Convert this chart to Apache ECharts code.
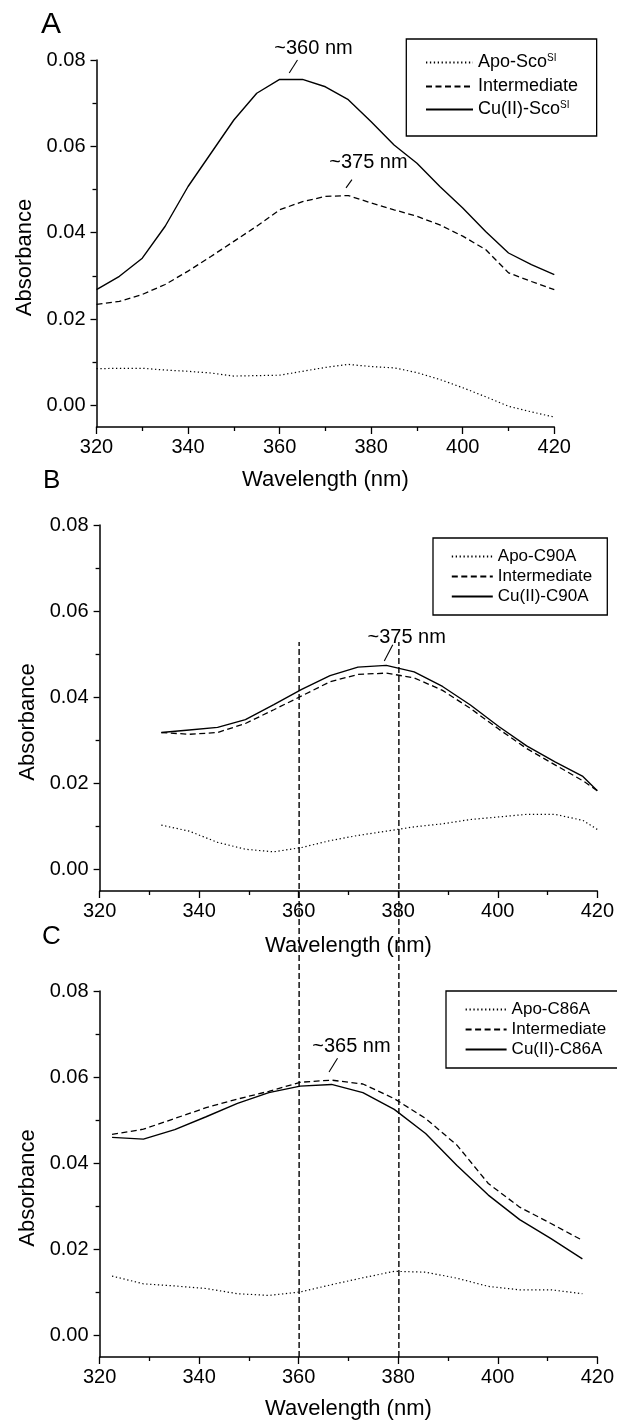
<!DOCTYPE html>
<html>
<head>
<meta charset="utf-8">
<script src="https://cdn.jsdelivr.net/npm/echarts@6/dist/echarts.min.js"></script>
<style>
html,body{margin:0;padding:0;background:#fff;overflow:hidden;}
#chart{width:617px;height:1425px;}
</style>
</head>
<body>
<div id="chart"></div>
<script>
// ---------- DATA ----------
const xTicks = [320, 340, 360, 380, 400, 420];
const yTicks = [0, 0.02, 0.04, 0.06, 0.08];
const yMinorTicks = [0.01, 0.03, 0.05, 0.07];

// Panel A
const waveA = [320,325,330,335,340,345,350,355,360,365,370,375,380,385,390,395,400,405,410,415,420];
const apoA = [0.0085,0.0086,0.0086,0.0082,0.0079,0.0075,0.0068,0.0069,0.0070,0.0079,0.0088,0.0095,0.0090,0.0087,0.0076,0.0060,0.0041,0.0020,-0.0002,-0.0015,-0.0027];
const interA = [0.0234,0.0241,0.0257,0.0280,0.0311,0.0345,0.0380,0.0415,0.0453,0.0472,0.0484,0.0486,0.0469,0.0453,0.0438,0.0418,0.0392,0.0361,0.0307,0.0287,0.0268];
const cuA = [0.0268,0.0299,0.0341,0.0415,0.0507,0.0584,0.0661,0.0723,0.0755,0.0755,0.0738,0.0708,0.0657,0.0603,0.0561,0.0507,0.0457,0.0403,0.0353,0.0326,0.0303];
const namesA = ['Apo-Sco', 'Intermediate', 'Cu(II)-Sco'];

// Panel B
const waveB = [332.4,338.0,343.7,349.3,355.0,360.6,366.3,371.9,377.6,383.2,388.9,394.5,400.2,405.8,411.5,417.1,420.0];
const apoB = [0.0103,0.0089,0.0063,0.0047,0.0041,0.0051,0.0067,0.0079,0.0089,0.0099,0.0106,0.0116,0.0122,0.0128,0.0128,0.0114,0.0093];
const interB = [0.0318,0.0314,0.0318,0.0339,0.0371,0.0403,0.0436,0.0453,0.0456,0.0445,0.0416,0.0374,0.0326,0.0281,0.0243,0.0206,0.0183];
const cuB = [0.0318,0.0324,0.0330,0.0348,0.0383,0.0418,0.0450,0.0470,0.0474,0.0459,0.0425,0.0382,0.0332,0.0287,0.0250,0.0216,0.0183];
const namesB = ['Apo-C90A', 'Intermediate ', 'Cu(II)-C90A'];

// Panel C
const waveC = [322.5,328.8,335.1,341.4,347.7,354.0,360.3,366.6,372.9,379.2,385.5,391.8,398.1,404.4,410.7,417.0];
const apoC = [0.0138,0.0120,0.0115,0.0109,0.0097,0.0093,0.0101,0.0118,0.0134,0.0149,0.0147,0.0133,0.0114,0.0106,0.0106,0.0097];
const interC = [0.0467,0.0479,0.0504,0.0529,0.0549,0.0567,0.0588,0.0593,0.0584,0.0550,0.0504,0.0442,0.0353,0.0298,0.0260,0.0221];
const cuC = [0.0460,0.0456,0.0478,0.0508,0.0539,0.0564,0.0579,0.0583,0.0564,0.0525,0.0469,0.0395,0.0326,0.0269,0.0225,0.0178];
const namesC = ['Apo-C86A', 'Intermediate  ', 'Cu(II)-C86A'];

// Reference wavelengths (vertical dashed lines through B and C)
const refLines = [360, 380];

// ---------- CHART ----------
const FONT = "'Liberation Sans',Arial,sans-serif";
const chart = echarts.init(document.getElementById('chart'));
const grids = [
  {left: 96.5, right: 62.7, top: 60, bottom: 998},
  {left: 99.6, right: 18.6, top: 525, bottom: 534},
  {left: 99.6, right: 18.6, top: 991, bottom: 68},
  {left: 99.6, right: 18.6, top: 642, bottom: 68}
];
function pairs(xs, ys) { return xs.map((x, i) => [x, ys[i]]); }

const nameGaps = [42, 44, 41];
const xAxes = [0,1,2].map(i => ({
  type: 'value', gridIndex: i, min: 320, max: 420, interval: 20,
  name: 'Wavelength (nm)', nameLocation: 'middle', nameGap: nameGaps[i],
  nameTextStyle: {fontFamily: FONT, fontSize: 22, color: '#000'},
  axisLine: {show: true, onZero: false, lineStyle: {color: '#000', width: 1.5}},
  axisTick: {show: true, inside: false, length: 7, lineStyle: {color: '#000', width: 1.3}},
  minorTick: {show: true, splitNumber: 2, length: 4, lineStyle: {color: '#000', width: 1.3}},
  axisLabel: {fontFamily: FONT, fontSize: 20, color: '#000', margin: 10},
  splitLine: {show: false}, minorSplitLine: {show: false}
}));
xAxes.push({type: 'value', gridIndex: 3, min: 320, max: 420, show: false});

const yAxes = [];
[0,1,2].forEach(i => {
  yAxes.push({
    type: 'value', gridIndex: i, min: -0.005, max: 0.08, position: 'left',
    name: 'Absorbance', nameLocation: 'middle', nameGap: i === 0 ? 59 : 60, nameRotate: 90,
    nameTextStyle: {fontFamily: FONT, fontSize: 22, color: '#000', padding: [0, 28, 0, 0]},
    axisLine: {show: true, onZero: false, lineStyle: {color: '#000', width: 1.5}},
    axisTick: {show: true, length: 6, customValues: yTicks, lineStyle: {color: '#000', width: 1.3}},
    axisLabel: {fontFamily: FONT, fontSize: 20, color: '#000', margin: 11, customValues: yTicks,
      formatter: v => v.toFixed(2)},
    splitLine: {show: false}
  });
  yAxes.push({
    type: 'value', gridIndex: i, min: -0.005, max: 0.08, position: 'left',
    axisLine: {show: false, onZero: false},
    axisTick: {show: true, length: 4, customValues: yMinorTicks, lineStyle: {color: '#000', width: 1.3}},
    axisLabel: {show: false, customValues: yMinorTicks},
    splitLine: {show: false}
  });
});
yAxes.push({type: 'value', gridIndex: 3, min: 0, max: 1, show: false});

const styles = [
  {type: [1.3, 2.6], width: 1.2},
  {type: [6, 3.5], width: 1.3},
  {type: 'solid', width: 1.4}
];
function mkSeries(names, wave, sets, gi) {
  return sets.map((ys, k) => ({
    type: 'line', name: names[k], xAxisIndex: gi, yAxisIndex: gi * 2,
    data: pairs(wave, ys), showSymbol: false, symbol: 'none', clip: false,
    lineStyle: Object.assign({color: '#000'}, styles[k]),
    itemStyle: {color: '#000'}, silent: true, animation: false
  }));
}
function annotate(series, ann) {
  series.markLine = {
    silent: true, symbol: ['none', 'none'], animation: false,
    lineStyle: {color: '#000', type: 'solid', width: 1.1},
    label: {show: false},
    data: [[{coord: ann.from}, {coord: ann.to}]]
  };
  series.markPoint = {
    silent: true, animation: false, symbol: 'circle', symbolSize: 1,
    itemStyle: {color: 'rgba(0,0,0,0)'},
    label: {show: true, position: 'inside', color: '#000', fontFamily: FONT, fontSize: 20,
      offset: ann.offset || [0, 0], formatter: ann.text},
    data: [{coord: ann.at}]
  };
}
const sA = mkSeries(namesA, waveA, [apoA, interA, cuA], 0);
const sB = mkSeries(namesB, waveB, [apoB, interB, cuB], 1);
const sC = mkSeries(namesC, waveC, [apoC, interC, cuC], 2);
annotate(sA[2], {text: '~360 nm', at: [363.9, 0.0800], offset: [16, -12], from: [362.1, 0.0770], to: [363.9, 0.0800]});
annotate(sA[1], {text: '~375 nm', at: [379.4, 0.0562], from: [374.5, 0.0504], to: [375.8, 0.0523]});
annotate(sB[2], {text: '~375 nm', at: [381.7, 0.0538], from: [377.2, 0.0484], to: [378.9, 0.0522]});
annotate(sC[1], {text: '~365 nm', at: [370.6, 0.0670], from: [366.1, 0.0612], to: [367.8, 0.0644]});

const refSeries = refLines.map(x => ({
  type: 'line', xAxisIndex: 3, yAxisIndex: 6, data: [[x, 0], [x, 1]],
  showSymbol: false, symbol: 'none', silent: true, animation: false,
  lineStyle: {color: '#000', type: [6, 3], width: 1.4}
}));

function legend(names, box, fs, iw, sup) {
  return {
    orient: 'vertical', left: box.left, top: box.top, data: names,
    itemWidth: iw, itemHeight: 10, itemGap: box.gap,
    itemStyle: {opacity: 0, color: 'rgba(0,0,0,0)', borderWidth: 0},
    padding: box.padding, borderColor: '#000', borderWidth: 1.3, selectedMode: false,
    textStyle: {fontFamily: FONT, fontSize: fs, color: '#000', lineHeight: fs,
      rich: {sup: {fontFamily: FONT, fontSize: 10, color: '#000', verticalAlign: 'top', lineHeight: fs, padding: [0, 0, 9, 0]}}},
    formatter: name => sup ? (name === 'Intermediate' ? name : name + '{sup|SI}') : name.trim()
  };
}
const titleStyle = sz => ({fontFamily: FONT, fontSize: sz, fontWeight: 'normal', color: '#000'});
chart.setOption({
  animation: false, backgroundColor: '#fff', textStyle: {fontFamily: FONT},
  title: [
    {text: 'A', left: 41, top: 10, textStyle: titleStyle(30), padding: 0},
    {text: 'B', left: 43, top: 468, textStyle: titleStyle(26), padding: 0},
    {text: 'C', left: 42, top: 924, textStyle: titleStyle(26), padding: 0}
  ],
  legend: [
    legend(namesA, {left: 406.3, top: 39, gap: 5, padding: [14.5, 18.6, 16.5, 18.7]}, 18, 47, true),
    legend(namesB, {left: 433, top: 538, gap: 3, padding: [10, 15, 10, 17.8]}, 17, 41, false),
    legend(namesC, {left: 446, top: 991, gap: 3, padding: [10, 14, 10, 18.6]}, 17, 41, false)
  ],
  grid: grids, xAxis: xAxes, yAxis: yAxes,
  series: [].concat(sA, sB, sC, refSeries)
});
</script>
</body>
</html>
